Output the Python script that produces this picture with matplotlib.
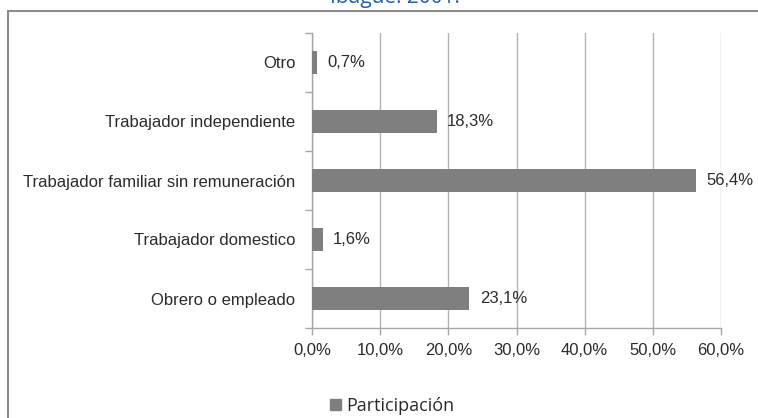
import numpy as np
import matplotlib.pyplot as plt
from matplotlib.patches import Rectangle

# participation by occupational position (%)
categorias = ['Otro', 'Trabajador independiente', 'Trabajador familiar sin remuneración',
              'Trabajador domestico', 'Obrero o empleado']
participacion = [0.7, 18.3, 56.4, 1.6, 23.1]
xticks = [0, 10, 20, 30, 40, 50, 60]

bar_color = '#7f7f7f'
axis_gray = '#a6a6a6'
text_color = '#2b2b2b'

fig = plt.figure(figsize=(7.58, 4.18), dpi=100)
fig.patch.set_facecolor('white')

# outer chart frame (runs past the right and bottom edges)
fig.add_artist(Rectangle((8 / 758, -0.1), 1.2, 0.1 + 1 - 11 / 418, transform=fig.transFigure,
                         fill=False, edgecolor='#8c8c8c', linewidth=1.5))

# title, mostly cut off at the top
fig.text(395 / 758, 1 - 3 / 418, 'Ibagué: 2001.', ha='center', va='baseline',
         fontsize=15, color='#1f5fb4', family='Open Sans')

ax = fig.add_axes([312 / 758, 1 - 328 / 418, 409 / 758, 295 / 418])
y = np.arange(len(categorias))
bars = ax.barh(y, participacion, height=0.4, color=bar_color, zorder=3)

ax.set_xlim(0, 60)
ax.set_ylim(len(categorias) - 0.5, -0.5)

ax.set_xticks(xticks)
ax.set_xticklabels([f'{v:.1f}%'.replace('.', ',') for v in xticks],
                   fontsize=12, family='Liberation Sans', color=text_color)
ax.set_yticks(y)
ax.set_yticklabels(categorias, fontsize=12, family='Liberation Sans', color=text_color)
ax.set_yticks(np.arange(-0.5, len(categorias)), minor=True)
ax.tick_params(axis='y', which='major', length=0, pad=12)
ax.tick_params(axis='y', which='minor', length=5, color=axis_gray, width=1)
ax.tick_params(axis='x', length=5, color=axis_gray, width=1, pad=6)

ax.grid(axis='x', color='#b3b3b3', linewidth=1, zorder=0)
for side in ['top', 'right']:
    ax.spines[side].set_visible(False)
for side in ['left', 'bottom']:
    ax.spines[side].set_color(axis_gray)
    ax.spines[side].set_linewidth(1)

for yi, v in zip(y, participacion):
    ax.text(v + 1.5, yi, f'{v:.1f}%'.replace('.', ','), va='center', ha='left',
            fontsize=12, family='Liberation Sans', color=text_color, zorder=4)

# legend below the plot
fig.legend([Rectangle((0, 0), 1, 1, color=bar_color)], ['Participación'],
           loc='center', bbox_to_anchor=(392 / 758, 1 - 406 / 418), frameon=False,
           prop={'family': 'Open Sans', 'size': 13}, handlelength=0.6, handleheight=0.6,
           handletextpad=0.3, labelcolor=text_color, borderpad=0.2)

fig.savefig('out.png', dpi=100, facecolor='white')
